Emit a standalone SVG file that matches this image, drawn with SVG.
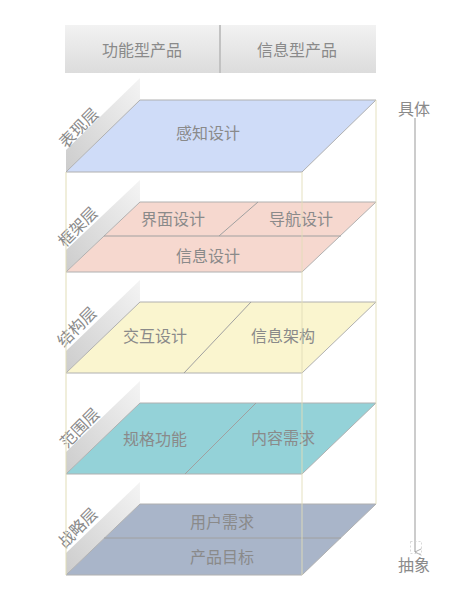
<svg xmlns="http://www.w3.org/2000/svg" width="472" height="610" viewBox="0 0 472 610">
  <defs>
    <linearGradient id="hdr" x1="0" y1="0" x2="0" y2="1">
      <stop offset="0" stop-color="#f2f2f2"/>
      <stop offset="1" stop-color="#dcdcdc"/>
    </linearGradient>
    <linearGradient id="side" x1="1" y1="0" x2="0" y2="1">
      <stop offset="0" stop-color="#f4f4f4"/>
      <stop offset="1" stop-color="#cccccc"/>
    </linearGradient>
    <marker id="arr" viewBox="0 0 10 10" refX="5" refY="9" markerWidth="8" markerHeight="8" orient="auto-start-reverse" markerUnits="userSpaceOnUse">
      <path d="M1,1 L5,9 L9,1" fill="none" stroke="#999" stroke-width="1"/>
    </marker>
    <style>
      text { font-family: "Noto Sans CJK SC", "Noto Sans", sans-serif; fill: #8a8a8a; text-anchor: middle; dominant-baseline: central; }
      .t { font-size: 16px; }
      .lbl { font-size: 16px; }
      .plane { stroke: #b0b0b0; stroke-width: 1; }
      .div { stroke: #a0a0a0; stroke-width: 1; fill: none; }
      .side { fill: url(#side); }
      .vl { stroke: #e2ddb8; stroke-width: 1.2; fill: none; }
    </style>
  </defs>

  <g id="header">
    <rect x="65" y="25" width="311" height="48" fill="url(#hdr)"/>
    <line x1="220" y1="25" x2="220" y2="73" stroke="#c2c2c2" stroke-width="2"/>
    <text class="t" x="142" y="49">功能型产品</text>
    <text class="t" x="297" y="49">信息型产品</text>
  </g>

  <g id="layer-biaoxian">
    <polygon class="side" points="140,78 140,100 66,172 66,150"/>
    <text class="lbl" transform="translate(78,127) rotate(-45)">表现层</text>
    <polygon class="plane" fill="#cfdcf8" points="140,100 376,100 302,172 66,172"/>
    <text class="t" x="208" y="132">感知设计</text>
  </g>

  <g id="layer-kuangjia">
    <polygon class="side" points="140,180 140,202 66,272 66,250"/>
    <text class="lbl" transform="translate(77,226) rotate(-45)">框架层</text>
    <polygon class="plane" fill="#f6d8cf" points="140,202 376,202 302,272 66,272"/>
    <line class="div" x1="104" y1="236" x2="341" y2="236"/>
    <line class="div" x1="258" y1="202" x2="219" y2="236"/>
    <text class="t" x="173" y="218">界面设计</text>
    <text class="t" x="301" y="218">导航设计</text>
    <text class="t" x="208" y="255">信息设计</text>
  </g>

  <g id="layer-jiegou">
    <polygon class="side" points="140,280 140,302 66,373 66,351"/>
    <text class="lbl" transform="translate(76,326) rotate(-45)">结构层</text>
    <polygon class="plane" fill="#faf5cf" points="140,302 376,302 302,373 66,373"/>
    <line class="div" x1="251" y1="302" x2="184" y2="373"/>
    <text class="t" x="155" y="335">交互设计</text>
    <text class="t" x="283" y="335">信息架构</text>
  </g>

  <g id="layer-fanwei">
    <polygon class="side" points="140,381 140,403 66,474 66,452"/>
    <text class="lbl" transform="translate(79,427) rotate(-45)">范围层</text>
    <polygon class="plane" fill="#94d2d8" points="140,403 376,403 302,474 66,474"/>
    <line class="div" x1="256" y1="403" x2="185" y2="474"/>
    <text class="t" x="155" y="438">规格功能</text>
    <text class="t" x="283" y="437">内容需求</text>
  </g>

  <g id="layer-zhanlue">
    <polygon class="side" points="140,482 140,504 66,575 66,553"/>
    <text class="lbl" transform="translate(77,527) rotate(-45)">战略层</text>
    <polygon class="plane" fill="#a9b5c9" points="140,504 376,504 302,575 66,575"/>
    <line class="div" x1="104" y1="538" x2="341" y2="538"/>
    <text class="t" x="222" y="521">用户需求</text>
    <text class="t" x="222" y="556">产品目标</text>
  </g>

  <g id="connectors">
    <line class="vl" x1="66" y1="172" x2="66" y2="575" opacity="0.85"/>
    <line class="vl" x1="302" y1="172" x2="302" y2="575" opacity="0.75"/>
    <line class="vl" x1="376" y1="100" x2="376" y2="504" opacity="0.75"/>
    <line x1="415" y1="118" x2="415" y2="552" stroke="#999" stroke-width="1" marker-end="url(#arr)"/>
    <rect x="410.5" y="541.5" width="11" height="12" fill="none" stroke="#cfcfcf" stroke-width="0.8" stroke-dasharray="2,2"/>
  </g>

  <g id="axis-labels">
    <text class="t" x="414" y="108">具体</text>
    <text class="t" x="414" y="564">抽象</text>
  </g>
</svg>
